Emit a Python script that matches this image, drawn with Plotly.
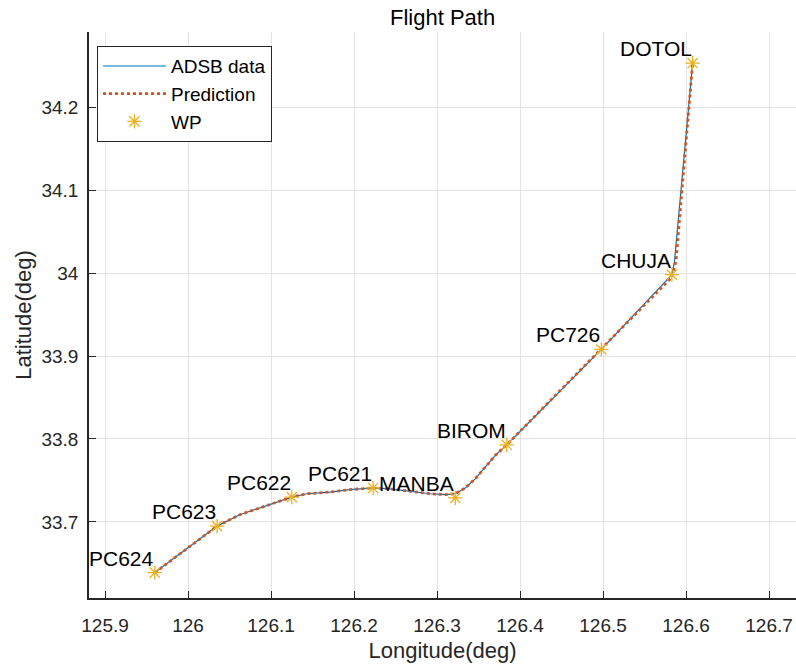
import plotly.graph_objects as go

# ADSB track (lon, lat)
adsb_lon = [125.960, 126.035, 126.063, 126.099, 126.125, 126.143, 126.171, 126.195,
            126.223, 126.243, 126.267, 126.292, 126.310, 126.322, 126.334, 126.346, 126.358,
            126.370, 126.384, 126.498, 126.583, 126.586, 126.608]
adsb_lat = [33.639, 33.695, 33.709, 33.721, 33.730, 33.734, 33.736, 33.739,
            33.741, 33.740, 33.737, 33.734, 33.733, 33.734, 33.741, 33.752, 33.766,
            33.780, 33.793, 33.908, 33.998, 34.013, 34.253]

# Predicted track (lon, lat)
pred_lon = [125.960, 126.035, 126.063, 126.099, 126.125, 126.143, 126.171, 126.195,
            126.223, 126.243, 126.267, 126.292, 126.310, 126.322, 126.334, 126.346, 126.358,
            126.370, 126.384, 126.498, 126.583, 126.588, 126.608]
pred_lat = [33.639, 33.695, 33.709, 33.721, 33.730, 33.734, 33.736, 33.739,
            33.741, 33.740, 33.737, 33.734, 33.733, 33.734, 33.741, 33.752, 33.766,
            33.780, 33.793, 33.908, 33.995, 34.015, 34.253]

# Waypoints
wp_names = ["PC624", "PC623", "PC622", "PC621", "MANBA", "BIROM", "PC726", "CHUJA", "DOTOL"]
wp_lon = [125.960, 126.035, 126.125, 126.223, 126.322, 126.384, 126.498, 126.583, 126.608]
wp_lat = [33.639, 33.695, 33.730, 33.741, 33.729, 33.793, 33.908, 33.998, 34.253]

x_ticks = [125.9, 126.0, 126.1, 126.2, 126.3, 126.4, 126.5, 126.6, 126.7]
x_tick_text = ["125.9", "126", "126.1", "126.2", "126.3", "126.4", "126.5", "126.6", "126.7"]
y_ticks = [33.7, 33.8, 33.9, 34.0, 34.1, 34.2]
y_tick_text = ["33.7", "33.8", "33.9", "34", "34.1", "34.2"]

FONT = "Liberation Sans, Arial, sans-serif"
AX = "#262626"

fig = go.Figure()
fig.add_trace(go.Scatter(x=adsb_lon, y=adsb_lat, mode="lines", name="ADSB data",
                         line=dict(color="#0072BD", width=1.2)))
fig.add_trace(go.Scatter(x=pred_lon, y=pred_lat, mode="lines", name="Prediction",
                         line=dict(color="#D95319", width=2.8, dash="dot")))
fig.add_trace(go.Scatter(x=wp_lon, y=wp_lat, mode="markers", name="WP",
                         marker=dict(symbol="asterisk-open", size=12, color="#EDB120",
                                     line=dict(color="#EDB120", width=1.3))))

for n, lo, la in zip(wp_names, wp_lon, wp_lat):
    fig.add_annotation(x=lo, y=la, text=n, showarrow=False, xanchor="right", yanchor="bottom",
                       yshift=1, xshift=1, font=dict(family=FONT, size=21, color="black"))

fig.update_layout(
    width=796, height=668,
    margin=dict(l=89, r=0, t=32, b=70),
    paper_bgcolor="white", plot_bgcolor="white",
    title=dict(text="Flight Path", x=0.556, xanchor="center", y=1 - 17 / 668, yanchor="middle",
               font=dict(family=FONT, size=22, color="black")),
    font=dict(family=FONT, color=AX),
    legend=dict(x=0.0113, y=0.975, xanchor="left", yanchor="top", bgcolor="white",
                bordercolor="#262626", borderwidth=1, font=dict(family=FONT, size=19, color="black"),
                itemwidth=63, tracegroupgap=0),
    showlegend=True,
)
fig.update_xaxes(range=[125.8807, 126.7325], tickvals=x_ticks, ticktext=x_tick_text,
                 automargin=False, ticklabelstandoff=9,
                 showgrid=True, gridcolor="#e3e3e3", gridwidth=1, zeroline=False,
                 showline=True, linecolor=AX, linewidth=1.5, ticks="inside", ticklen=7,
                 tickcolor=AX, tickfont=dict(family=FONT, size=19, color=AX),
                 title=dict(text="Longitude(deg)", font=dict(family=FONT, size=22, color=AX), standoff=8))
fig.update_yaxes(range=[33.6084, 34.2904], tickvals=y_ticks, ticktext=y_tick_text,
                 automargin=False, ticklabelstandoff=5,
                 showgrid=True, gridcolor="#e3e3e3", gridwidth=1, zeroline=False,
                 showline=True, linecolor=AX, linewidth=1.5, ticks="inside", ticklen=7,
                 tickcolor=AX, tickfont=dict(family=FONT, size=19, color=AX),
                 title=dict(text="Latitude(deg)", font=dict(family=FONT, size=22, color=AX), standoff=4))

fig.write_html("out.html", config={"displayModeBar": False},
               post_script="document.body.style.margin='0';document.body.style.overflow='hidden';")
